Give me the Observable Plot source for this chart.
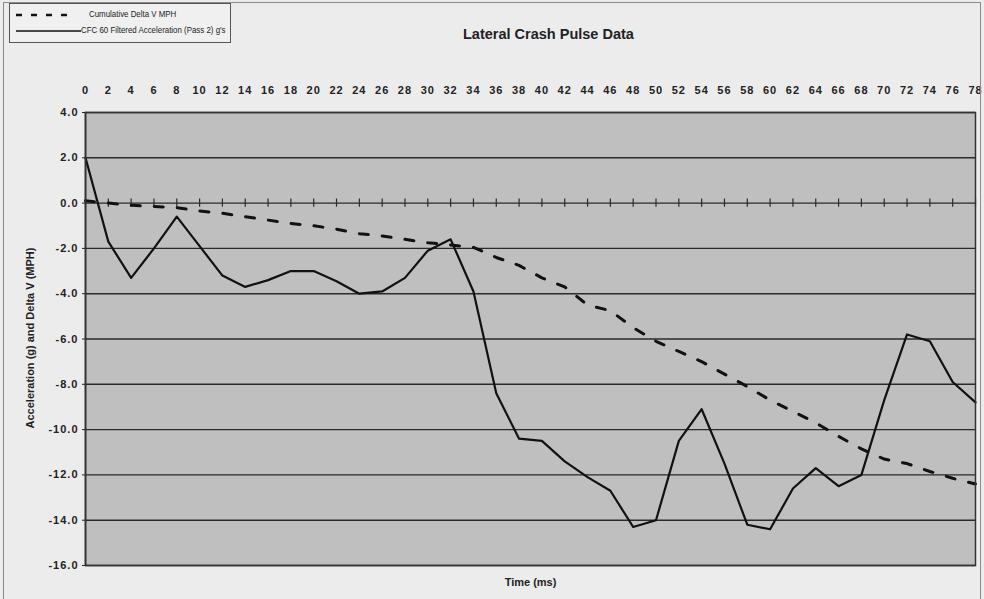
<!DOCTYPE html>
<html>
<head>
<meta charset="utf-8">
<script src="https://cdn.jsdelivr.net/npm/d3@7"></script>
<script src="https://cdn.jsdelivr.net/npm/@observablehq/plot@0.6"></script>
<style>
  html, body { margin: 0; padding: 0; background: #ececec; }
  #wrap { position: relative; width: 984px; height: 599px; overflow: hidden; font-family: "Liberation Sans", Arial, sans-serif; }
  #border { position: absolute; left: 3px; top: 2px; width: 976px; height: 600px; border: 1px solid #8a8a8a; pointer-events: none; }
  #legend { position: absolute; left: 9px; top: 3px; width: 220px; height: 38px; border: 1px solid #555; background: #f0f0f0; }
  .lg { position: absolute; left: 0; font-size: 7.9px; color: #222; white-space: nowrap; transform: scaleY(1.25); transform-origin: 0 50%; }
  #title { position: absolute; left: 463px; top: 26px; font-size: 14.5px; font-weight: bold; color: #222; white-space: nowrap; }
</style>
</head>
<body>
<div id="wrap">
  <div id="chart"></div>
  <div id="border"></div>
  <div id="legend">
    <svg width="220" height="38" style="position:absolute;left:0;top:0">
      <line x1="6" x2="64" y1="11" y2="11" stroke="#111" stroke-width="2.5" stroke-dasharray="6,9"></line>
      <line x1="6" x2="71" y1="27" y2="27" stroke="#111" stroke-width="1.6"></line>
    </svg>
    <div class="lg" style="left:79px; top:5px">Cumulative Delta V MPH</div>
    <div class="lg" style="left:71px; top:21px">CFC 60 Filtered Acceleration (Pass 2) g's</div>
  </div>
  <div id="title">Lateral Crash Pulse Data</div>
</div>
<script>
// Time categories (ms) — also the top tick labels
const timeMs = [0,2,4,6,8,10,12,14,16,18,20,22,24,26,28,30,32,34,36,38,40,42,44,46,48,50,52,54,56,58,60,62,64,66,68,70,72,74,76,78];

// CFC 60 Filtered Acceleration (Pass 2) g's
const acceleration = [2.0,-1.7,-3.3,-2.0,-0.6,-1.9,-3.2,-3.7,-3.4,-3.0,-3.0,-3.45,-4.0,-3.9,-3.3,-2.1,-1.6,-3.9,-8.4,-10.4,-10.5,-11.4,-12.1,-12.7,-14.3,-14.0,-10.5,-9.1,-11.5,-14.2,-14.4,-12.6,-11.7,-12.5,-12.0,-8.7,-5.8,-6.1,-7.9,-8.8];

// Cumulative Delta V MPH
const deltaV = [0.1,0.0,-0.1,-0.15,-0.2,-0.35,-0.45,-0.6,-0.75,-0.9,-1.0,-1.15,-1.35,-1.45,-1.6,-1.75,-1.85,-1.95,-2.4,-2.75,-3.3,-3.7,-4.5,-4.75,-5.5,-6.1,-6.55,-7.0,-7.55,-8.1,-8.7,-9.2,-9.7,-10.3,-10.85,-11.3,-11.5,-11.85,-12.15,-12.4];

// Y tick values
const yTicks = [4,2,0,-2,-4,-6,-8,-10,-12,-14,-16];

const yLabel = "Acceleration (g) and Delta V (MPH)";
const xLabel = "Time (ms)";

const accData = timeMs.map((t, i) => ({t, v: acceleration[i]}));
const dvData = timeMs.map((t, i) => ({t, v: deltaV[i]}));

const fmt = v => (v < 0 ? "-" : "") + Math.abs(v).toFixed(1);

const chart = Plot.plot({
  width: 984,
  height: 599,
  marginLeft: 85,
  marginRight: 9,
  marginTop: 112,
  marginBottom: 34,
  style: { background: "transparent", fontFamily: "'Liberation Sans', Arial, sans-serif", color: "#222" },
  x: { domain: [0, 78] },
  y: { domain: [-16, 4] },
  marks: [
    Plot.frame({ fill: "#bfbfbf", stroke: null }),
    Plot.ruleY(yTicks, { stroke: "#2a2a2a", strokeWidth: 1.4 }),
    Plot.ruleX(timeMs, { x: d => d, y1: 0.18, y2: -0.18, stroke: "#2a2a2a", strokeWidth: 1.2 }),
    Plot.axisX({ anchor: "top", ticks: timeMs, tickSize: 0, tickPadding: 19, fontSize: 11, fontWeight: "bold", label: null, tickFormat: d => String(d) }),
    Plot.axisY({ anchor: "left", ticks: yTicks, tickSize: 3, tickPadding: 4, fontSize: 11, fontWeight: "bold", label: null, tickFormat: fmt }),
    Plot.text([yLabel], { frameAnchor: "left", textAnchor: "middle", dx: -55, dy: -1, rotate: -90, fontSize: 11, fontWeight: "bold", fill: "#222", ariaLabel: "ylabel" }),
    Plot.text([xLabel], { frameAnchor: "bottom", dy: 20, fontSize: 11, fontWeight: "bold", fill: "#222", ariaLabel: "xlabel" }),
    Plot.line(dvData, { x: "t", y: "v", stroke: "#111", strokeWidth: 3, strokeDasharray: "9,14" }),
    Plot.line(accData, { x: "t", y: "v", stroke: "#111", strokeWidth: 2.2, strokeLinejoin: "round" }),
    Plot.ruleX([0], { stroke: "#222", strokeWidth: 1.6 }),
    Plot.frame({ stroke: "#333", strokeWidth: 1.5 })
  ]
});
// letter spacing to match the wide, scanned Excel lettering
d3.select(chart).selectAll('g[aria-label="x-axis tick label"] text, g[aria-label="y-axis tick label"] text').style("letter-spacing", "1px");
d3.select(chart).selectAll('g[aria-label="ylabel"] text, g[aria-label="xlabel"] text').style("letter-spacing", "1.5px");
document.getElementById("chart").appendChild(chart);
</script>
</body>
</html>
